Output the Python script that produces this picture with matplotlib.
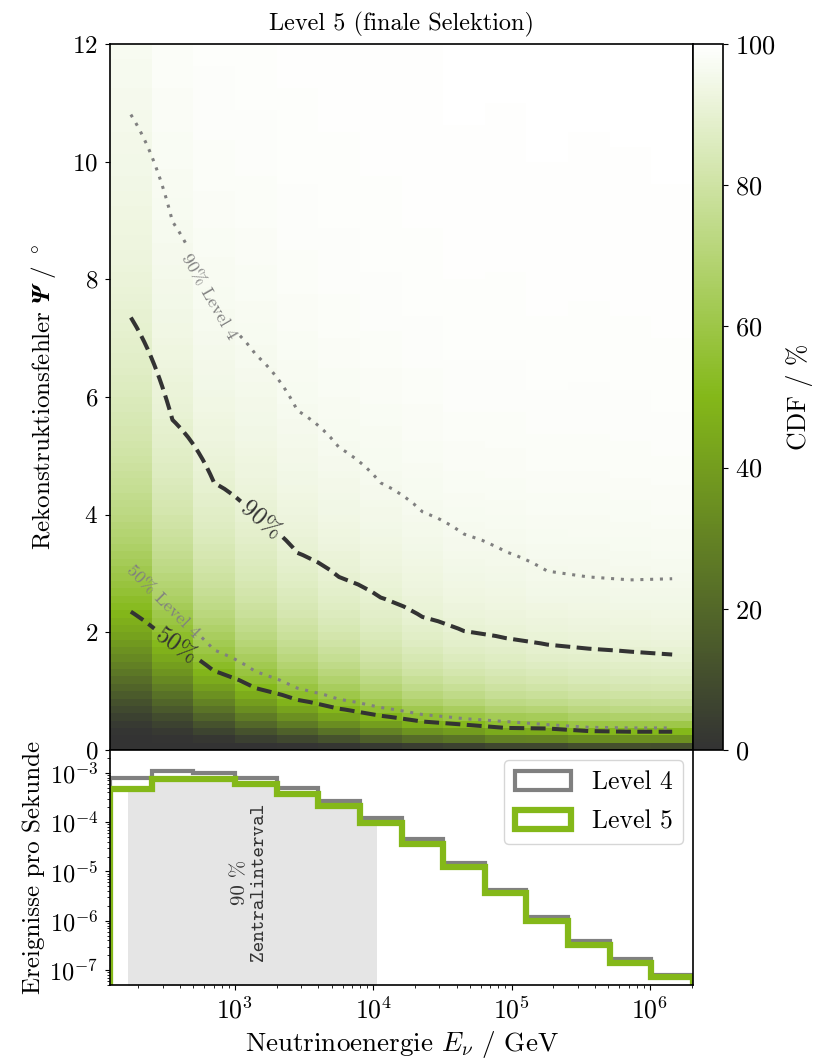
import math
import numpy as np
import matplotlib
matplotlib.use('Agg')
import matplotlib.pyplot as plt
from matplotlib.colors import LinearSegmentedColormap
from matplotlib.ticker import LogLocator, NullFormatter
from matplotlib.transforms import blended_transform_factory

plt.rcParams['font.family'] = ['cmr10', 'DejaVu Serif']
plt.rcParams['mathtext.fontset'] = 'cm'
plt.rcParams['axes.formatter.use_mathtext'] = True
plt.rcParams['axes.unicode_minus'] = False
plt.rcParams['axes.linewidth'] = 1.2

# energy binning in GeV
energy_edges = np.array([125, 250, 500, 1e3, 2e3, 4e3, 8e3, 1.6e4, 3.2e4,
                         6.4e4, 1.28e5, 2.56e5, 5.12e5, 1.024e6, 2.048e6])

# 50% / 90% quantiles of the reconstruction error per energy bin (degrees)
psi50_l5 = [2.35, 1.79, 1.34, 1.05, 0.85, 0.70, 0.58, 0.48, 0.43, 0.37, 0.36, 0.32, 0.31, 0.31]
psi90_l5 = [7.35, 5.61, 4.54, 3.95, 3.35, 2.94, 2.59, 2.26, 2.02, 1.90, 1.79, 1.72, 1.67, 1.62]
psi50_l4 = [3.10, 2.30, 1.70, 1.33, 1.05, 0.86, 0.72, 0.60, 0.53, 0.48, 0.43, 0.38, 0.37, 0.37]
psi90_l4 = [10.80, 8.98, 7.38, 6.72, 5.77, 5.14, 4.54, 4.05, 3.67, 3.37, 3.04, 2.94, 2.89, 2.91]

# event rates per energy bin (1/s)
rate_l4 = [7.9e-4, 1.07e-3, 1.0e-3, 7.9e-4, 5.0e-4, 2.7e-4, 1.23e-4, 4.6e-5,
           1.48e-5, 4.2e-6, 1.17e-6, 3.9e-7, 1.66e-7, 8.1e-8]
rate_l5 = [4.7e-4, 7.6e-4, 7.5e-4, 6.0e-4, 3.7e-4, 2.1e-4, 9.6e-5, 3.6e-5,
           1.23e-5, 3.6e-6, 1.0e-6, 3.3e-7, 1.4e-7, 7.1e-8]

# 90% central interval of Level 5 energies (GeV)
interval_lo, interval_hi = 168, 1.06e4

psi_edges = np.linspace(0, 12, 97)
psi_mid = 0.5 * (psi_edges[1:] + psi_edges[:-1])
e_mid = np.sqrt(energy_edges[1:] * energy_edges[:-1])

erf = np.vectorize(math.erf)


def cdf_grid(q50, q90):
    # log-normal shape per energy bin fixed by the two quantiles, in percent
    q50 = np.asarray(q50)
    q90 = np.asarray(q90)
    sigma = np.log(q90 / q50) / 1.2816
    z = (np.log(psi_mid)[:, None] - np.log(q50)[None, :]) / sigma[None, :]
    return 50 * (1 + erf(z / math.sqrt(2)))


cdf5 = cdf_grid(psi50_l5, psi90_l5)
cdf4 = cdf_grid(psi50_l4, psi90_l4)

cmap = LinearSegmentedColormap.from_list('tugreen', ['#333333', '#84b819', '#ffffff'])

fig = plt.figure(figsize=(8.15, 10.59), dpi=100)
ax = fig.add_axes([0.135, 0.2918, 0.7153, 0.6667])
ax_h = fig.add_axes([0.135, 0.0699, 0.7153, 0.2219], sharex=ax)
cax = fig.add_axes([0.8503, 0.2918, 0.0368, 0.6667])

mesh = ax.pcolormesh(energy_edges, psi_edges, cdf5, cmap=cmap, vmin=0, vmax=100)
ax.set_xscale('log')
ax.set_xlim(energy_edges[0], energy_edges[-1])
ax.set_ylim(0, 12)
ax.set_yticks([0, 2, 4, 6, 8, 10, 12])
ax.tick_params(axis='x', which='both', bottom=False, labelbottom=False)
ax.tick_params(axis='y', labelsize=18, pad=5)
ax.set_title('Level 5 (finale Selektion)', fontsize=17.5, pad=10)

psi_label = r'Rekonstruktionsfehler $\mathbfit{\Psi}$ / $^\circ$'
ax.set_ylabel(psi_label, fontsize=18, labelpad=10)
try:
    fig.canvas.draw()
except Exception:
    ax.set_ylabel(r'Rekonstruktionsfehler $\mathbf{\Psi}$ / $^\circ$', fontsize=18, labelpad=10)

cs5 = ax.contour(e_mid, psi_mid, cdf5, levels=[50, 90], colors='#333333',
                 linestyles='dashed', linewidths=2.9)
ax.clabel(cs5, fmt={50: '50%', 90: '90%'}, fontsize=18,
          manual=[(369, 1.74), (1440, 3.8)], inline=True)

cs4 = ax.contour(e_mid, psi_mid, cdf4, levels=[50, 90], colors='#808080',
                 linestyles=[(0, (1, 2.2))], linewidths=2.2)
ax.clabel(cs4, fmt={50: '50% Level 4', 90: '90% Level 4'}, fontsize=13,
          manual=[(297, 2.5), (628, 7.7)], inline=True)

cb = fig.colorbar(mesh, cax=cax)
cb.set_ticks([0, 20, 40, 60, 80, 100])
cb.ax.tick_params(labelsize=19, pad=5)
cb.set_label('CDF / %', fontsize=18.5, labelpad=8)

# 90% central interval shaded below the Level 5 histogram
inner = energy_edges[(energy_edges > interval_lo) & (energy_edges < interval_hi)]
fill_x = np.concatenate([[interval_lo], inner, [interval_hi]])
idx = np.clip(np.searchsorted(energy_edges, fill_x, side='right') - 1, 0, len(rate_l5) - 1)
fill_y = np.asarray(rate_l5)[idx]
fill_y[-1] = fill_y[-2]
ax_h.fill_between(fill_x, fill_y, 1e-12, step='post', color='#e5e5e5', lw=0, zorder=0)

ax_h.hist(energy_edges[:-1], bins=energy_edges, weights=rate_l4, histtype='step',
          color='#808080', lw=3, label='Level 4')
ax_h.hist(energy_edges[:-1], bins=energy_edges, weights=rate_l5, histtype='step',
          color='#84b819', lw=4.5, label='Level 5')
ax_h.set_yscale('log')
ax_h.set_ylim(5e-8, 2.9e-3)
ax_h.yaxis.set_major_locator(LogLocator(base=10, numticks=20))
ax_h.yaxis.set_minor_locator(LogLocator(base=10, subs=np.arange(2, 10), numticks=20))
ax_h.yaxis.set_minor_formatter(NullFormatter())
ax_h.xaxis.set_major_locator(LogLocator(base=10, numticks=20))
ax_h.xaxis.set_minor_locator(LogLocator(base=10, subs=np.arange(2, 10), numticks=20))
ax_h.xaxis.set_minor_formatter(NullFormatter())
ax_h.set_xlim(energy_edges[0], energy_edges[-1])
ax_h.tick_params(axis='x', which='major', labelsize=18.5, pad=5)
ax_h.tick_params(axis='y', which='major', labelsize=17.5, pad=5)
ax_h.set_xlabel(r'Neutrinoenergie $E_\nu$ / GeV', fontsize=19.5)
ax_h.set_ylabel('Ereignisse pro Sekunde', fontsize=18, labelpad=3)
ax_h.legend(loc='upper right', fontsize=18.5, handlelength=2.2, handleheight=0.8,
            handletextpad=0.8, labelspacing=0.6, borderaxespad=0.4)

trans = blended_transform_factory(ax_h.transData, ax_h.transAxes)
ax_h.text(1086, 0.437, '90 %', rotation=90, ha='center', va='center',
          transform=trans, fontsize=15, color='#333333')
ax_h.text(1489, 0.437, 'Zentralinterval', rotation=90, ha='center', va='center',
          transform=trans, fontsize=14.5, family='cmtt10', color='#333333')

fig.savefig('out.png', dpi=100)
